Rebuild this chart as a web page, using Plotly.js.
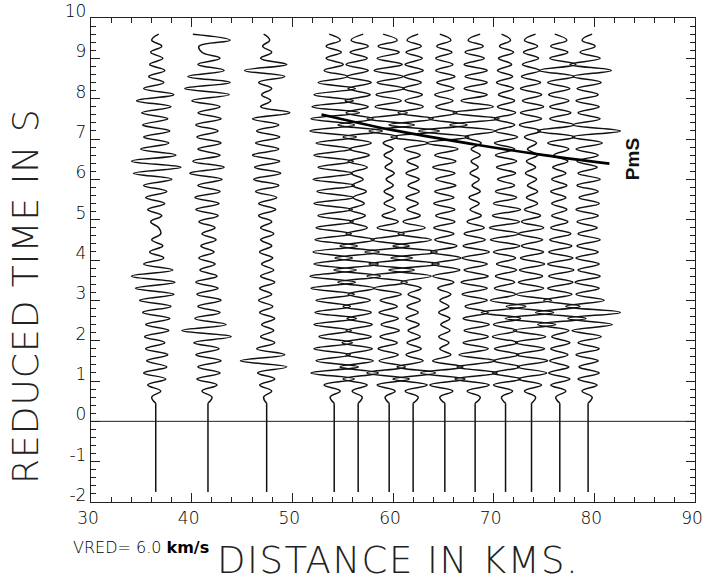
<!DOCTYPE html>
<html>
<head>
<meta charset="utf-8">
<script src="https://cdn.plot.ly/plotly-3.0.1.min.js"></script>
<style>
html,body{margin:0;padding:0;background:#fff;}
#chart{width:705px;height:583px;}
#chart .annotation[data-index="0"] text{letter-spacing:1.5px;}
#chart .annotation[data-index="1"] text{letter-spacing:1px;}
</style>
</head>
<body>
<div id="chart"></div>
<script>
// Station distances (km)
const distances = [36.43, 41.62, 47.45, 54.16, 56.54, 59.62, 62.0, 65.15, 68.16, 71.18, 73.76, 76.57, 79.38];
// Record start, onset and sample interval of the digitised extrema (s)
const tStart = -1.75;
const onset = 0.45;
const dt = 0.15;

const amp1 = [0,-0.4,0.5,-0.8, 1.0,-1.2,1.1,-0.9,1.2,-1.0,0.9, -1.1,1.3,-1.0,1.4, -1.3,1.5,-1.6,1.8,-2.0,1.9, -2.4,1.7,-1.2,0.8, -0.6,0.7,-0.4,0.5,0.3,-0.5, 0.6,-0.8,0.9,-1.0,1.1, -1.2,1.6,-2.2,2.5,-2.4, 2.0,-1.5,1.3,-1.2,1.4,-1.3,1.2,-1.4,1.5,-1.9,1.8,-1.2,0.8,-0.7,0.9,-0.6,0.7,-0.5,0.6,-0.4,0.3];
const amp2 = [0,0.4,-0.6,0.9, -1.1,1.2,-1.0,1.3,-1.2,1.1,-1.4, 2.3,-2.6,1.8,-1.3,1.2,-1.0,1.3,-1.1,1.0,-1.2, 0.9,-0.8,0.7,-0.9,0.6,-0.7,0.8,-0.6,0.7,-0.9, 1.0,-1.2,1.1,-1.3,1.2,-1.0, 1.4,-1.8,1.6,-1.5, 1.2,-1.0,1.3,-1.1,1.0,-1.2,1.3,-1.0,1.2, -1.6,2.1,-2.3,2.2,-2.0,1.6, -1.0,1.2,-0.6,-0.9,2.2,-1.5];
const amp3 = [0,-0.3,0.5,-0.7, 0.8,-0.9, 2.0,-2.6,1.8, -1.0,0.8,-0.6,0.7,-0.5,0.8, -0.7,0.6,-0.8,0.5,-0.7,0.8, -0.6,0.7,-0.5,0.6,-0.7,0.5,-0.6,0.7,-0.6,0.5, -0.8,0.9,-0.8,1.0,-1.1,1.2, -1.3,1.4,-1.2,1.3,-1.4,1.2,-1.1, 1.3,-1.0,1.2,-1.4,2.3, -0.6,0.4,-0.5,0.5,-0.8, 1.8,-2.2,2.0, -0.6,0.5,-0.4,0.3,-0.3];
const amp4 = [0,-0.4,0.6,-1.0, 2.0,-2.3,2.4,-1.8,1.6,-2.0,1.8, -1.5,1.7,-2.0,2.2,-1.9,1.6,-1.8,2.0,-2.3,2.1, -2.4,2.2,-2.0,1.8,-2.1,2.3,-1.9,1.7,-1.8,1.9, -1.6,1.8,-2.0,1.9,-1.7,2.0,-2.1,1.8,-1.6,1.9, -2.0,1.7,-1.8,2.2,-2.4,2.0,-2.3,2.5,-2.2,1.9, -2.0,2.1,-1.6,1.3,-1.0,0.9,-0.8,0.7,-0.8,0.6,-0.5];
const amp5 = [0,0.4,-0.6,0.9, -1.5,2.0,-1.8,1.5,-1.2,1.4,-1.6, 1.3,-1.2,1.4,-1.1,1.3,-1.5,1.2,-1.0,1.6,-2.0, 2.2,-2.4,2.0,-2.3,2.1,-1.8,1.6,-1.2,0.9,-0.8, 0.7,-0.9,0.6,-0.5,0.8,-0.6,0.5,-0.7,0.9,-1.0, 1.1,-0.9,1.3,-1.5,2.4,-2.0,1.5,-1.2,1.0,-1.3, 1.2,-1.0,1.3,-1.1,1.0,-1.2,0.9,-0.8,1.0,-0.7,0.5];
const amp6 = [0,-0.4,0.6,-1.2, 2.0,-2.2,1.6, -1.0,0.9,-1.1,0.8,-0.9,1.0,-0.8,0.9,-1.0,0.8,-0.9,1.2,-1.5,1.8, -2.2,2.5,-2.0,2.3,-2.4,2.0,-1.8,1.5,-1.2,0.9, -0.7,0.6,-0.5,0.4,-0.5,0.4,-0.3, 0.5,-0.4,0.3,-0.5,0.4,-0.6,0.8, -2.0,2.5,-2.2,1.8,-1.4,1.2, -1.3,1.5,-1.2,1.4,-1.5,1.3,-1.2,1.0,-1.1,0.8,-0.6];
const amp7 = [0,0.5,-0.8,1.4, -2.0,2.2,-1.6,1.0, -0.7,0.8,-0.6,0.7,-0.5,0.6,-0.7,0.5,-0.6,0.7,-0.5,0.8,-1.2, 1.8,-2.4,2.6,-2.2,2.4,-2.0,1.8,-1.5,1.2,-1.0, 0.7,-0.6,0.5,-0.7,0.6,-0.5,0.6,-0.7,0.5,-0.6,0.7,-0.9, 1.5,-2.2,2.6,-2.4,2.0,-1.5, 1.0,-0.8,0.9,-1.0,0.8,-0.9,1.0,-0.8,0.9,-0.7,0.8,-0.6,0.5];
const amp8 = [0,-0.5,0.8,-1.5, 2.0,-2.4,1.8,-1.2, 0.6,-0.5,0.4,-0.6,0.5,-0.4,0.5,-0.6,0.4,-0.5,0.6,-0.7,0.9, -1.2,1.5,-1.3,1.6,-1.4,1.2,-1.0,0.9,-1.1,1.0, -0.9,1.0,-1.1,0.9,-1.0,1.1,-0.9,1.0,-1.2,1.1,-1.0,1.3, -1.8,2.4,-2.6,2.2,-1.6,1.2, -0.9,0.8,-1.0,0.9,-0.8,1.0,-0.9,0.8,-0.9,0.7,-0.8,0.6,-0.5];
const amp9 = [0,0.5,-0.8,1.4, -2.0,2.2,-1.8,2.0,-1.6,1.3, -1.2,1.3,-1.1,1.4,-1.2,1.3,-1.0,1.2, -1.3,1.2,-1.4,1.3,-1.1,1.2,-1.3,1.4,-1.2,1.0,-1.1,0.9,-0.8, 0.6,-0.5,0.4,-0.6,0.5,-0.3,0.4,-0.5,0.3,-0.4,0.5,-0.4,0.6,-1.0, 2.0,-2.5,2.4,-2.2,1.8,-1.4,1.2, -1.1,1.2,-1.0,1.2,-1.1,0.9,-1.0,0.8,-0.7,0.5];
const amp10 = [0,-0.4,0.7,-1.2, 1.5,-1.3,1.4,-1.2,1.3, -1.1,1.2,-1.3,1.1,-1.2, 1.5,-2.4,2.0,-1.5, 1.0,-1.1,0.9,-1.0,1.1,-0.9,1.0,-1.2, 1.4,-1.5,1.3,-1.6,1.4,-1.3,1.5,-1.2,1.1,-1.0,0.9,-0.8, 1.0,-0.9,1.1,-1.0,0.9,-1.1,1.2,-1.0,0.9,-1.1,1.0,-0.8,0.9, -0.7,0.8,-0.9,0.7,-0.8,0.6,-0.7,0.8,-0.6,0.5,-0.4];
const amp11 = [0,0.4,-0.7,1.0, -1.3,1.5,-1.4,1.6,-1.5,1.3,-1.6,1.4,-1.8, 2.4,-2.6,2.2,-2.5,2.0,-1.5, 1.2,-1.3,1.1,-1.2,1.3,-1.1,1.2,-1.0,1.1,-1.3,1.2,-1.0,0.9,-0.7,0.6,-0.5,0.6,-0.4, 0.5,-0.6,0.4,-0.5,0.6,-0.4,0.5,-0.7,0.9, -1.2,1.0,-1.1,1.2,-0.9,1.0,-1.1,0.9,-1.0,0.8, -0.9,0.7,-0.8,0.6,-0.7,0.4];
const amp12 = [0,-0.4,0.6,-0.9, 1.0,-1.1,0.9,-1.0,0.8,-0.9,1.0,-0.8,0.9, -2.2,2.6,-2.4,2.0,-1.6,1.2, -1.2,1.3,-1.1,1.4,-1.2,1.3,-1.1,1.2,-1.0,1.1,-0.9,0.8, -0.8,0.7,-0.8,0.6,-0.9,0.7,-0.8,0.6,-0.7,0.8,-0.6,0.9,-1.2,1.5, -2.2,1.4,-1.0,1.1, -1.0,0.9,-1.1,1.0,-1.2,1.4, -2.0,1.6,-1.0,0.8,-0.9,0.7,-0.5];
const amp13 = [0,0.4,-0.6,0.9, -1.0,1.1,-0.9,1.0,-1.2,1.1,-1.0,1.3, -1.6,2.4,-2.0,3.2,-2.2,1.6, -1.2,1.1,-1.3,1.2,-1.0,1.1,-1.2,1.0,-1.1,1.2,-1.0,0.9,-1.1, 1.0,-1.2,1.1,-0.9,1.0,-1.1,1.2,-1.0,0.9,-1.1,1.0,-1.2,1.4,-1.6, 3.2,-1.5, 1.2,-1.0,1.1,-1.2,1.0,-1.1,1.3,-1.5, 2.3,-1.8,1.2, -0.8,0.7,-0.6,0.4];
const amplitudes = [amp1, amp2, amp3, amp4, amp5, amp6, amp7, amp8, amp9, amp10, amp11, amp12, amp13];

// PmS phase picks
const pmsDist = [52.9, 60.0, 68.0, 75.0, 81.5];
const pmsTime = [7.61, 7.22, 6.87, 6.60, 6.39];

const xTicks = [30, 40, 50, 60, 70, 80, 90];
const yTicks = [-2, -1, 0, 1, 2, 3, 4, 5, 6, 7, 8, 9, 10];

const traces = [];
// pre-onset flat record segments
const vx = [], vy = [];
distances.forEach(d => { vx.push(d, d, null); vy.push(tStart, onset, null); });
traces.push({x: vx, y: vy, mode: 'lines', line: {color: '#111', width: 1.5}, hoverinfo: 'skip'});
// wiggle traces
distances.forEach((d, k) => {
  const a = amplitudes[k];
  const xs = a.map(v => d + v);
  const ys = a.map((v, i) => onset + i * dt);
  traces.push({x: xs, y: ys, mode: 'lines', line: {color: '#111', width: 1.5, shape: 'spline', smoothing: 1.2}, hoverinfo: 'skip'});
});
// PmS
traces.push({x: pmsDist, y: pmsTime, mode: 'lines', line: {color: '#000', width: 2.6, shape: 'spline'}, hoverinfo: 'skip'});

const tickFont = {family: 'DejaVu Sans', size: 17, color: '#000', weight: 200};
const layout = {
  width: 705, height: 583,
  margin: {l: 91, r: 10, t: 18, b: 81},
  paper_bgcolor: '#fff', plot_bgcolor: '#fff',
  showlegend: false,
  xaxis: {
    range: [30, 90], tickvals: xTicks, ticktext: xTicks.map(String),
    ticks: 'inside', ticklen: 9, tickwidth: 1, tickcolor: '#222',
    minor: {dtick: 2, ticks: 'inside', ticklen: 5, tickcolor: '#222'},
    showline: true, linecolor: '#222', linewidth: 1.2, mirror: 'allticks',
    showgrid: false, zeroline: false, tickfont: tickFont, ticklabelshift: -3,
    ticklabeloverflow: 'allow'
  },
  yaxis: {
    range: [-2, 10], tickvals: yTicks, ticktext: yTicks.map(String),
    ticks: 'inside', ticklen: 9, tickwidth: 1, tickcolor: '#222',
    minor: {dtick: 0.2, ticks: 'inside', ticklen: 5, tickcolor: '#222'},
    showline: true, linecolor: '#222', linewidth: 1.2, mirror: 'allticks',
    showgrid: false, zeroline: false, tickfont: tickFont, ticklabelshift: -7,
    ticklabeloverflow: 'allow'
  },
  shapes: [{type: 'line', xref: 'paper', x0: 0, x1: 1, yref: 'y', y0: 0, y1: 0, line: {color: '#222', width: 1}}],
  annotations: [
    {text: 'DISTANCE IN KMS.', xref: 'paper', yref: 'paper', x: 0.508, y: -0.121, xanchor: 'center', yanchor: 'middle', showarrow: false,
     font: {family: 'DejaVu Sans', size: 37, color: '#222', weight: 200}},
    {text: 'REDUCED TIME IN S', xref: 'paper', yref: 'paper', x: -0.108, y: 0.426, xanchor: 'center', yanchor: 'middle', textangle: -90, showarrow: false,
     font: {family: 'DejaVu Sans', size: 36, color: '#222', weight: 200}},
    {text: 'VRED= 6.0 <b>km/s</b>', xref: 'paper', yref: 'paper', x: -0.033, y: -0.093, xanchor: 'left', yanchor: 'middle', showarrow: false,
     font: {family: 'DejaVu Sans', size: 16, color: '#000', weight: 200}},
    {text: '<b>PmS</b>', xref: 'x', yref: 'y', x: 83.8, y: 6.49, xanchor: 'center', yanchor: 'middle', textangle: -90, showarrow: false,
     font: {family: 'Liberation Sans', size: 19, color: '#111'}}
  ]
};
Plotly.newPlot('chart', traces, layout, {staticPlot: true, displayModeBar: false});
</script>
</body>
</html>
